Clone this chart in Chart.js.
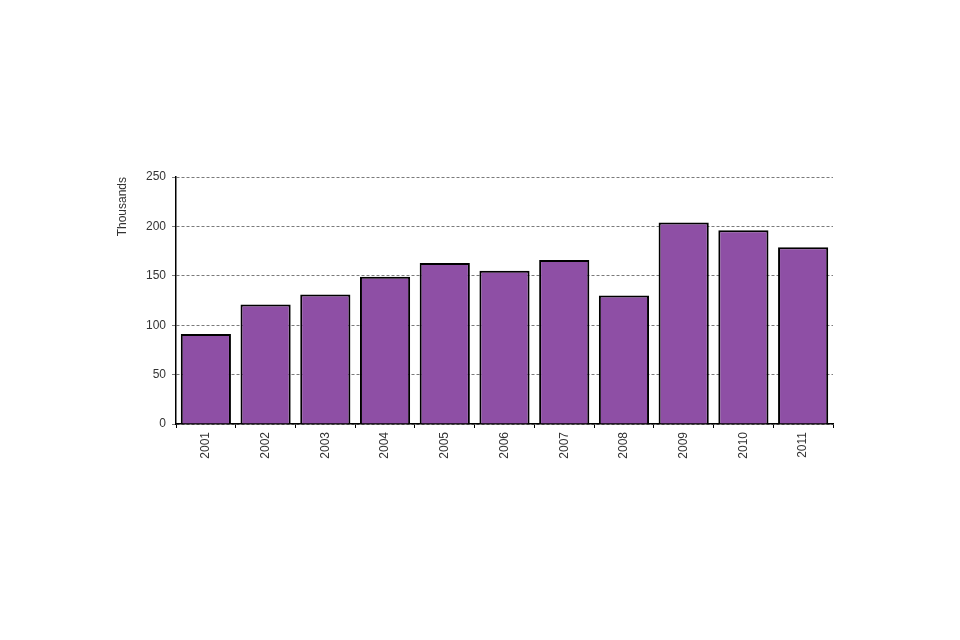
<!DOCTYPE html>
<html lang="en">
<head>
  <meta charset="UTF-8" />
  <title>Thousands by year</title>
  <script src="https://cdn.jsdelivr.net/npm/chart.js"></script>
  <style>
    body {
      margin: 0;
      background-color: #fff;
      font-family: "Liberation Sans", Arial, sans-serif;
    }
    #wrap {
      width: 960px;
      height: 640px;
    }
  </style>
</head>
<body>
  <div id="wrap"><canvas id="barChart"></canvas></div>

  <script>
    const years = ['2001', '2002', '2003', '2004', '2005', '2006', '2007', '2008', '2009', '2010', '2011'];
    const values = [91, 121, 131, 149, 163, 155, 166, 130, 204, 196, 179];
    const yTicks = [0, 50, 100, 150, 200, 250];

    const ctx = document.getElementById('barChart').getContext('2d');
    new Chart(ctx, {
      type: 'bar',
      data: {
        labels: years,
        datasets: [{
          label: 'Thousands',
          data: values,
          backgroundColor: '#8e4fa5',
          borderColor: '#000',
          borderWidth: 2,
          barPercentage: 0.84,
          categoryPercentage: 1
        }]
      },
      options: {
        responsive: true,
        maintainAspectRatio: false,
        animation: false,
        layout: {
          padding: { left: 115, right: 127, top: 177, bottom: 100 }
        },
        plugins: {
          legend: { display: false },
          tooltip: { enabled: false }
        },
        scales: {
          x: {
            afterFit: (scale) => { scale.height = 116; },
            grid: {
              drawOnChartArea: false,
              drawTicks: true,
              tickLength: 4,
              color: '#000'
            },
            border: { color: '#000', width: 1.5 },
            ticks: {
              minRotation: 90,
              maxRotation: 90,
              color: '#333',
              padding: 4,
              font: { family: 'Liberation Sans', size: 12 }
            }
          },
          y: {
            min: 0,
            max: 250,
            afterFit: (scale) => { scale.width = 61; },
            afterBuildTicks: (scale) => {
              scale.ticks = yTicks.map(v => ({ value: v }));
            },
            grid: {
              color: '#7a7a7a',
              lineWidth: 1,
              tickLength: 4
            },
            border: { color: '#000', width: 1.5, dash: [3, 2] },
            ticks: {
              color: '#333',
              padding: 6,
              font: { family: 'Liberation Sans', size: 12 }
            },
            title: {
              display: true,
              text: 'Thousands',
              align: 'end',
              color: '#333',
              padding: { top: 0, bottom: 0 },
              font: { family: 'Liberation Sans', size: 12 }
            }
          }
        }
      }
    });
  </script>
</body>
</html>
